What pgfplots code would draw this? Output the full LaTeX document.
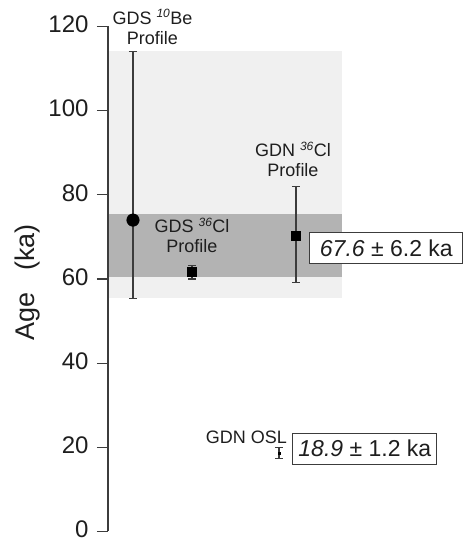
\documentclass[border=0pt]{standalone}
\usepackage{pgfplots}
\pgfplotsset{compat=1.18}
\usepackage{fontspec}
\setmainfont{Liberation Sans}
\definecolor{axgray}{HTML}{3C3C3C}
\definecolor{lightband}{HTML}{F0F0F0}
\definecolor{darkband}{HTML}{B3B3B3}
\definecolor{txt}{HTML}{1E1E1E}
\begin{document}
\begin{tikzpicture}
\begin{axis}[
 scale only axis, width=351pt, height=505pt,
 xmin=108, xmax=459, ymin=0, ymax=120,
 axis x line=none, axis y line*=left,
 ytick={0,20,...,120},
 tick align=outside, major tick length=11pt,
 axis line style={axgray, line width=1.1pt},
 tick style={axgray, line width=1.1pt},
 yticklabel style={font=\fontsize{24}{24}\selectfont, text=txt, inner ysep=0.5pt, xshift=-5pt, yshift=2pt},
 /pgf/number format/assume math mode=true,
 clip=false,
 errstyle/.style={only marks,
  error bars/y dir=both, error bars/y explicit,
  error bars/error bar style={axgray, line width=1.1pt},
  error bars/error mark options={rotate=90, mark size=4pt, axgray, line width=1.1pt}},
]
% bands
\addplot[draw=none, fill=lightband] coordinates {(109.5,55.4) (342,55.4) (342,114.1) (109.5,114.1)} -- cycle;
\addplot[draw=none, fill=darkband] coordinates {(109.5,60.5) (342,60.5) (342,75.4) (109.5,75.4)} -- cycle;
% data
\addplot[errstyle, mark=*, mark size=6.3pt, mark options={fill=black, draw=black}]
  coordinates {(133,74.0) += (0,40.1) -= (0,18.6)};
\addplot[errstyle, mark=square*, mark size=4.5pt, mark options={fill=black, draw=black}]
  coordinates {(192,61.7) += (0,1.6) -= (0,1.7)};
\addplot[errstyle, mark=square*, mark size=4.5pt, mark options={fill=black, draw=black}]
  coordinates {(296,70.4) += (0,11.5) -= (0,11.2)};
\addplot[errstyle, mark=square*, mark size=1pt, mark options={fill=black, draw=black}]
  coordinates {(279,18.7) += (0,1.3) -= (0,1.3)};
% labels
\node[align=center, font=\fontsize{18}{20}\selectfont, text=txt, inner sep=0pt] at (axis cs:152.5,119.9) {GDS \textsuperscript{\itshape\fontsize{12}{12}\selectfont 10}Be\\Profile};
\node[align=center, font=\fontsize{18}{20}\selectfont, text=txt, inner sep=0pt] at (axis cs:293,88.4) {GDN \textsuperscript{\itshape\fontsize{12}{12}\selectfont 36}Cl\\Profile};
\node[align=center, font=\fontsize{18}{20}\selectfont, text=txt, inner sep=0pt] at (axis cs:192,70.3) {GDS \textsuperscript{\itshape\fontsize{12}{12}\selectfont 36}Cl\\Profile};
\node[anchor=east, font=\fontsize{18}{20}\selectfont, text=txt, inner sep=0pt] at (axis cs:287,22.3) {GDN OSL};
\node[draw=axgray, fill=white, line width=0.9pt, font=\fontsize{23}{23}\selectfont, text=txt, inner xsep=10pt, inner ysep=7pt, anchor=west] at (axis cs:309.5,67.3) {\textit{67.6} ± 6.2 ka};
\node[draw=axgray, fill=white, line width=0.9pt, font=\fontsize{23}{23}\selectfont, text=txt, inner xsep=5.5pt, inner ysep=7pt, anchor=west] at (axis cs:292.5,19.7) {\textit{18.9} ± 1.2 ka};
\node[rotate=90, font=\fontsize{27}{27}\selectfont, text=txt, inner sep=0pt] at (axis cs:27.5,59.2) {Age\hspace{22pt}(ka)};
\end{axis}
\path (-108pt,-10.5pt) rectangle (351pt,531.5pt);
\end{tikzpicture}
\end{document}
